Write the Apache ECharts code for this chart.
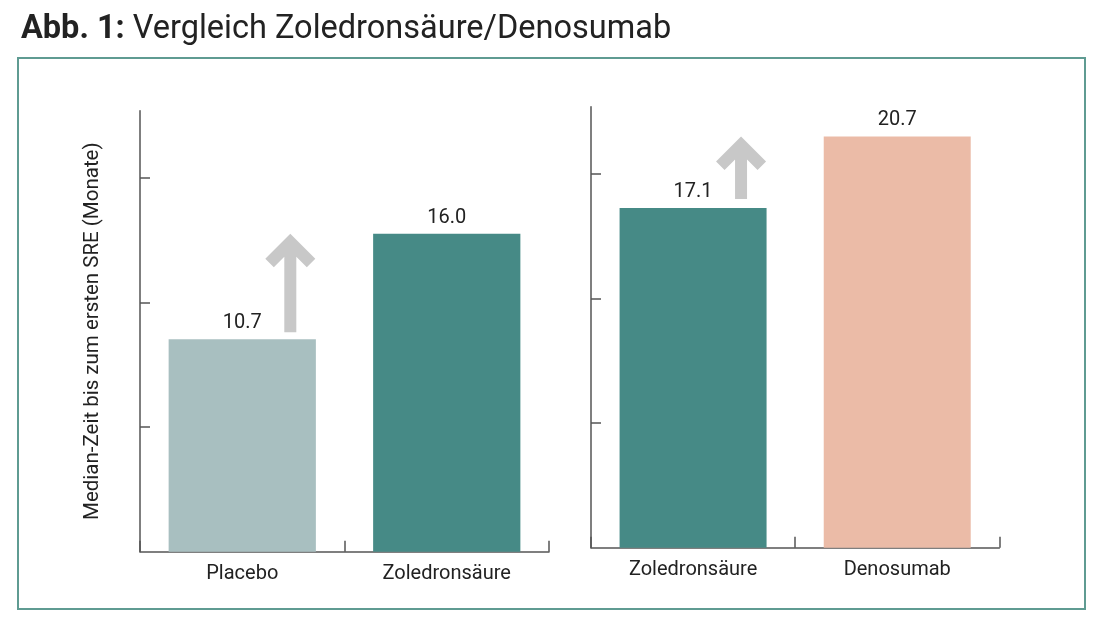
<!DOCTYPE html>
<html>
<head>
<meta charset="utf-8">
<script src="https://cdn.jsdelivr.net/npm/echarts@6/dist/echarts.min.js"></script>
<style>html,body{margin:0;padding:0;background:#fff}#c{width:1100px;height:622px}</style>
</head>
<body>
<div id="c"></div>
<script>
// ---- data ----
const leftCategories = ['Placebo', 'Zoledronsäure'];
const leftValues = [10.7, 16.0];
const rightCategories = ['Zoledronsäure', 'Denosumab'];
const rightValues = [17.1, 20.7];
// arrows: [categoryIndex, fromValue, toValue]
const leftArrows = [[0, 11.05, 16.0]];
const rightArrows = [[0, 17.55, 20.7]];
const yTickValues = [6.27, 12.53, 18.8];
const yMax = 22.2;
const yAxisTitle = 'Median-Zeit bis zum ersten SRE (Monate)';
const titleBold = 'Abb. 1:';
const titleText = 'Vergleich Zoledronsäure/Denosumab';

const leftColors = ['#a8bfc0', '#468a86'];
const rightColors = ['#468a86', '#ebbba7'];

const FONT = 'Roboto';
const axisColor = '#555';

function arrowRender(params, api) {
  const c0 = api.coord([api.value(0), api.value(1)]);
  const c1 = api.coord([api.value(0), api.value(2)]);
  const band = api.size([1, 0])[0];
  const x = c0[0] + band * 0.235;
  const b = c0[1], t = c1[1];
  const hw = 6, wing = 25, cap = 8.5;
  const pts = [
    [x, t], [x + wing, t + wing], [x + wing - cap, t + wing + cap], [x + hw, t + 17 + hw],
    [x + hw, b], [x - hw, b], [x - hw, t + 17 + hw],
    [x - wing + cap, t + wing + cap], [x - wing, t + wing]
  ];
  return { type: 'polygon', shape: { points: pts }, style: { fill: '#c8c8c8' } };
}

function yAxisCfg(grid, withName) {
  const o = {
    type: 'value', gridIndex: grid, min: 0, max: yMax,
    axisLine: { show: true, lineStyle: { color: axisColor, width: 1.5 } },
    axisTick: { show: true, inside: true, length: 10, customValues: yTickValues, lineStyle: { color: axisColor, width: 1.5 } },
    axisLabel: { show: false },
    splitLine: { show: false }
  };
  if (withName) {
    o.name = yAxisTitle;
    o.nameLocation = 'middle';
    o.nameGap = 37;
    o.nameTextStyle = { fontFamily: FONT, fontSize: 20.5, color: '#222' };
  }
  return o;
}
function xAxisCfg(grid, cats) {
  return {
    type: 'category', gridIndex: grid, data: cats,
    axisLine: { show: true, lineStyle: { color: axisColor, width: 1.5 } },
    axisTick: { show: true, inside: true, length: 11, lineStyle: { color: axisColor, width: 1.5 } },
    axisLabel: { fontFamily: FONT, fontSize: 20, color: '#222', margin: 12 }
  };
}
function barSeries(idx, vals, colors) {
  return {
    type: 'bar', xAxisIndex: idx, yAxisIndex: idx, barWidth: '72%',
    data: vals.map((v, i) => ({ value: v, itemStyle: { color: colors[i] } })),
    label: { show: true, position: 'top', distance: 6, fontFamily: FONT, fontSize: 20, color: '#222',
      formatter: p => p.value.toFixed(1) },
    silent: true
  };
}

const chart = echarts.init(document.getElementById('c'), null, { renderer: 'canvas' });
chart.setOption({
  animation: false,
  backgroundColor: '#fff',
  title: {
    text: '{b|' + titleBold + '} ' + titleText,
    left: 16, top: 8,
    textStyle: {
      fontFamily: FONT, fontSize: 32.5, fontWeight: 'normal', color: '#222',
      rich: { b: { fontFamily: FONT, fontSize: 32.5, fontWeight: 'bold', color: '#222' } }
    }
  },
  graphic: [{
    type: 'rect', shape: { x: 18, y: 58, width: 1067, height: 551 },
    style: { fill: 'none', stroke: '#5f9b92', lineWidth: 2 }, silent: true, z: -1
  }],
  grid: [
    { left: 140, right: 551, top: 110.7, bottom: 70.3 },
    { left: 591, right: 100.7, top: 106.7, bottom: 74.3 }
  ],
  xAxis: [xAxisCfg(0, leftCategories), xAxisCfg(1, rightCategories)],
  yAxis: [yAxisCfg(0, true), yAxisCfg(1, false)],
  series: [
    barSeries(0, leftValues, leftColors),
    barSeries(1, rightValues, rightColors),
    { type: 'custom', xAxisIndex: 0, yAxisIndex: 0, data: leftArrows, renderItem: arrowRender, silent: true, z: 5 },
    { type: 'custom', xAxisIndex: 1, yAxisIndex: 1, data: rightArrows, renderItem: arrowRender, silent: true, z: 5 }
  ]
});
</script>
</body>
</html>
